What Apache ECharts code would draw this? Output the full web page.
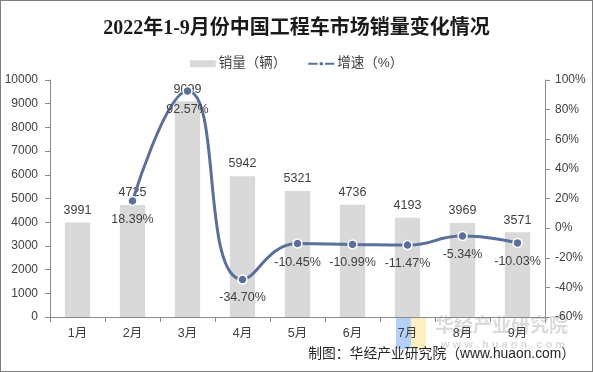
<!DOCTYPE html>
<html><head><meta charset="utf-8">
<script src="https://cdn.jsdelivr.net/npm/echarts@6/dist/echarts.min.js"></script>
<style>html,body{margin:0;padding:0;background:#fff}#c{width:593px;height:372px;box-sizing:border-box;border:1px solid #7f7f7f}</style>
</head><body><div id="c"></div>
<script>
const categories = ['1月','2月','3月','4月','5月','6月','7月','8月','9月'];
const sales = [3991,4725,9099,5942,5321,4736,4193,3969,3571];
const growth = [null,18.39,92.57,-34.70,-10.45,-10.99,-11.47,-5.34,-10.03];
const leftTicks = [0,10000,1000];
const rightTicks = [-60,100,20];
const font = '"Liberation Sans","Noto Sans CJK SC",sans-serif';
const chart = echarts.init(document.getElementById('c'));
chart.setOption({
  animation:false,
  title:{text:'2022年1-9月份中国工程车市场销量变化情况',left:'center',top:13,
    textStyle:{fontFamily:'"Liberation Serif","Noto Sans CJK SC",serif',fontSize:20,fontWeight:'bold',color:'#1a1a1a'}},
  legend:{top:51,left:'center',itemGap:21,itemWidth:26,itemHeight:7,
    textStyle:{fontFamily:font,fontSize:13.5,color:'#404040',padding:[0,0,0,-2]},
    data:[{name:'销量（辆）',icon:'rect'},{name:'增速（%）'}]},
  grid:{left:49,right:47,top:79,bottom:54},
  xAxis:{type:'category',data:categories,
    axisLine:{lineStyle:{color:'#8c8c8c'}},
    axisTick:{show:true,alignWithLabel:false,lineStyle:{color:'#8c8c8c'}},
    axisLabel:{fontFamily:font,fontSize:12.5,color:'#404040',margin:10}},
  yAxis:[{type:'value',min:leftTicks[0],max:leftTicks[1],interval:leftTicks[2],
    splitLine:{show:false},axisLine:{show:true,lineStyle:{color:'#8c8c8c'}},
    axisTick:{show:true,lineStyle:{color:'#8c8c8c'}},
    axisLabel:{fontFamily:font,fontSize:12,color:'#404040',margin:12,formatter:v=>String(v)}},
   {type:'value',min:rightTicks[0],max:rightTicks[1],interval:rightTicks[2],
    splitLine:{show:false},axisLine:{show:true,lineStyle:{color:'#8c8c8c'}},
    axisTick:{show:true,lineStyle:{color:'#8c8c8c'}},
    axisLabel:{fontFamily:font,fontSize:12,color:'#404040',margin:10,formatter:'{value}%'}}],
  series:[
   {name:'销量（辆）',type:'bar',data:sales,barWidth:'46%',itemStyle:{color:'#d9d9d9'},
    label:{show:true,position:'top',distance:6,fontFamily:font,fontSize:12.5,color:'#404040'}},
   {name:'增速（%）',type:'line',yAxisIndex:1,data:growth,smooth:0.5,connectNulls:false,
    symbol:'circle',symbolSize:9,
    lineStyle:{color:'#5b6f9b',width:3},
    itemStyle:{color:'#5b6f9b',borderColor:'#fff',borderWidth:1.5},
    label:{show:true,position:'bottom',distance:7,fontFamily:font,fontSize:12.5,color:'#404040',
      formatter:p=>p.value.toFixed(2)+'%'}}
  ],
  graphic:[
   {type:'text',left:434,top:314,z:-1,style:{text:'华经产业研究院',font:'bold 19px "Noto Sans CJK SC"',fill:'rgba(150,150,150,0.35)'}},
   {type:'text',left:440,top:338,z:-1,style:{text:'w w w . h u a o n . c o m',font:'bold 11px "Liberation Sans"',fill:'rgba(150,150,150,0.35)'}},
   {type:'rect',left:395,top:317,z:-1,shape:{width:15,height:31},style:{fill:'rgba(120,170,240,0.55)'}},
   {type:'rect',left:410,top:317,z:-1,shape:{width:15,height:31},style:{fill:'rgba(250,230,150,0.6)'}},
   {type:'text',right:17,top:346,style:{text:'制图：华经产业研究院（www.huaon.com）',font:'13.8px "Liberation Sans","Noto Sans CJK SC"',fill:'#262626'}}
  ]
});
</script></body></html>
